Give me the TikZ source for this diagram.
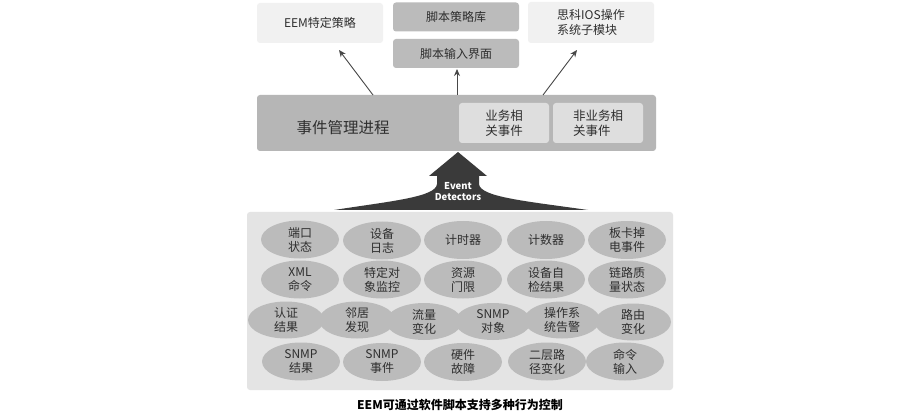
\documentclass[tikz,border=0pt]{standalone}
\usepackage{fontspec}
\setmainfont{Noto Sans CJK SC}
\usetikzlibrary{shapes.geometric,arrows.meta}
\definecolor{txt}{HTML}{2E2E2E}
\definecolor{lightbox}{HTML}{F1F1F1}
\definecolor{darkbox}{HTML}{BBBBBB}
\definecolor{barfill}{HTML}{B6B6B6}
\definecolor{innerfill}{HTML}{DEDEDE}
\definecolor{panelfill}{HTML}{E4E4E4}
\definecolor{ellfill}{HTML}{BBBBBB}
\definecolor{bigarrow}{HTML}{3A3A3A}
\definecolor{arrowcol}{HTML}{474747}
\begin{document}
\begin{tikzpicture}[x=1pt,y=-1pt,
  box/.style={rectangle,rounded corners=3pt,draw=none,inner sep=0pt,
    text=txt,font=\fontsize{12}{15}\selectfont,align=left},
  topl/.style={box,fill=lightbox,minimum width=126pt},
  topd/.style={box,fill=darkbox,minimum width=126pt,minimum height=29pt},
  inner/.style={box,fill=innerfill,minimum width=90pt,minimum height=40pt,
    font=\fontsize{12.5}{15}\selectfont},
  ev/.style={ellipse,fill=ellfill,draw=none,inner sep=0pt,minimum width=78pt,
    minimum height=38pt,text=txt,align=center,font=\fontsize{12}{14}\selectfont},
  evn/.style={ev,minimum width=76pt,minimum height=37pt},
  thin/.style={draw=arrowcol,line width=0.9pt,-{Stealth[length=7pt,width=6pt]}}
]
\useasboundingbox (0,0) rectangle (911,417);
\fill[white] (0,0) rectangle (911,417);

% top boxes
\node[topl,minimum height=40pt] (eem) at (320,23) {EEM特定策略};
\node[topd] (lib) at (456,17) {脚本策略库};
\node[topd] (input) at (456,53.5) {脚本输入界面};
\node[topl,minimum height=41pt] (cisco) at (591,22.5) {思科IOS操作\\系统子模块};

% event management bar
\node[box,fill=barfill,minimum width=399pt,minimum height=56pt] (bar) at (456.5,123) {};
\node[text=txt,font=\fontsize{15.5}{18}\selectfont,inner sep=0pt] (bartext) at (343,128) {事件管理进程};
\node[inner] (biz) at (504,123) {业务相\\关事件};
\node[inner] (nonbiz) at (598,123) {非业务相\\关事件};

% thin arrows
\coordinate (s1) at (373,95);
\coordinate (e1) at (339,50);
\coordinate (s2) at (457,95);
\coordinate (e2) at (457,69);
\coordinate (s3) at (543,95);
\coordinate (e3) at (577,50);
\draw[thin] (s1) -- (e1);
\draw[thin] (s2) -- (e2);
\draw[thin] (s3) -- (e3);

% detectors panel
\node[box,fill=panelfill,minimum width=426pt,minimum height=178pt] (panel) at (460,301) {};

% big arrow
\fill[bigarrow] (458,152) -- (487,176) -- (479,176) -- (479,184)
  .. controls (480,197) and (525,201) .. (588,210) -- (334,210)
  .. controls (392,201) and (436,197) .. (437,184) -- (437,176) -- (429,176) -- cycle;
\node[text=white,font=\bfseries\fontsize{9.5}{11}\selectfont,align=center,inner sep=0pt] (evdet) at (458,192) {Event\\Detectors};

% row 1
\node[ev] (r1a) at (300,239.5) {端口\\状态};
\node[ev] (r1b) at (382,240.5) {设备\\日志};
\node[ev] (r1c) at (463,240) {计时器};
\node[ev] (r1d) at (546,240) {计数器};
\node[ev] (r1e) at (627,240) {板卡掉\\电事件};
% row 2
\node[ev] (r2a) at (300,279.5) {XML\\命令};
\node[ev] (r2b) at (382,279.5) {特定对\\象监控};
\node[ev] (r2c) at (463,279.5) {资源\\门限};
\node[ev] (r2d) at (546,279.5) {设备自\\检结果};
\node[ev] (r2e) at (627,279.5) {链路质\\量状态};
% row 3
\node[evn] (r3a) at (286,320) {认证\\结果};
\node[evn] (r3b) at (357,320) {邻居\\发现};
\node[evn] (r3c) at (424,321.5) {流量\\变化};
\node[evn] (r3d) at (493,321.5) {SNMP\\对象};
\node[evn] (r3e) at (562,320) {操作系\\统告警};
\node[evn] (r3f) at (633,322) {路由\\变化};
% row 4
\node[ev] (r4a) at (301,361.5) {SNMP\\结果};
\node[ev] (r4b) at (382,362) {SNMP\\事件};
\node[ev] (r4c) at (463,362) {硬件\\故障};
\node[ev] (r4d) at (547,361.5) {二层路\\径变化};
\node[ev] (r4e) at (625,361.5) {命令\\输入};

% caption
\node[text=black,font=\bfseries\fontsize{12}{14}\selectfont,inner sep=0pt] (caption) at (460,405) {EEM可通过软件脚本支持多种行为控制};
\end{tikzpicture}
\end{document}
